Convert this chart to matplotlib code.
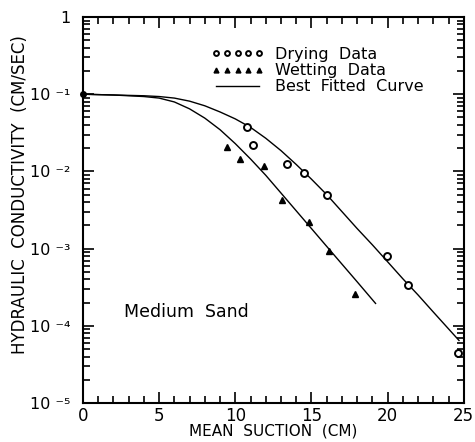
import matplotlib.pyplot as plt
from matplotlib.ticker import FixedLocator, LogLocator, NullFormatter

# data
dry_x = [10.77, 11.16, 13.4, 14.49, 16.03, 19.93, 21.34, 24.63]
dry_k = [0.038, 0.022, 0.0123, 0.0095, 0.0050, 0.00081, 0.00034, 0.000044]

wet_x = [9.45, 10.28, 11.89, 13.07, 14.85, 16.14, 17.85]
wet_k = [0.021, 0.0145, 0.0117, 0.0043, 0.0022, 0.00093, 0.00026]

# best fitted curves (traced)
fit_dry_x = [0, 2, 4, 5, 6, 7, 8, 9, 10, 11, 12, 13, 14, 15, 16, 17, 18, 19, 20, 21, 22, 23, 24.69]
fit_dry_k = [0.1, 0.0977, 0.0955, 0.0933, 0.0891, 0.0813, 0.0708, 0.0589, 0.0479, 0.0372, 0.0269, 0.0186,
             0.0123, 0.00794, 0.00501, 0.00302, 0.00182, 0.00112, 0.000676, 0.000407, 0.000251, 0.000151,
             0.0000646]
fit_wet_x = [0, 2, 4, 5, 6, 7, 8, 9, 10, 11, 12, 13, 14, 15, 16, 17, 18, 19.21]
fit_wet_k = [0.1, 0.0977, 0.0933, 0.0891, 0.0794, 0.0646, 0.0490, 0.0347, 0.0229, 0.0145, 0.00891, 0.00525,
             0.00309, 0.00182, 0.00107, 0.000631, 0.000372, 0.000195]

ytick_vals = [1e-5, 1e-4, 1e-3, 1e-2, 1e-1, 1]
ytick_labels = ['10 ⁻⁵', '10 ⁻⁴', '10 ⁻³', '10 ⁻²', '10 ⁻¹', '1']

plt.rcParams['font.family'] = 'DejaVu Sans'

fig = plt.figure(figsize=(4.75, 4.42), dpi=100)
ax = fig.add_axes([0.1747, 0.0882, 0.8016, 0.8733])

ax.plot(fit_dry_x, fit_dry_k, color='k', lw=1.0, label='Best  Fitted  Curve')
ax.plot(fit_wet_x, fit_wet_k, color='k', lw=1.0)
ax.plot(dry_x, dry_k, 'o', mfc='white', mec='k', mew=1.4, ms=5, ls='none', label='Drying  Data')
ax.plot(wet_x, wet_k, '^', color='k', ms=5, ls='none', label='Wetting  Data')
ax.plot([0], [0.1], 'o', color='k', ms=4, clip_on=False)

ax.set_yscale('log')
ax.set_xlim(0, 25)
ax.set_ylim(1e-5, 1)
ax.set_xticks([0, 5, 10, 15, 20, 25])
ax.xaxis.set_minor_locator(FixedLocator(range(26)))
ax.set_yticks(ytick_vals)
ax.set_yticklabels(ytick_labels)
ax.yaxis.set_minor_locator(LogLocator(base=10, subs=range(2, 10)))
ax.yaxis.set_minor_formatter(NullFormatter())
ax.tick_params(which='both', direction='in', top=True, right=True, width=1.2)
ax.tick_params(which='major', length=8)
ax.tick_params(which='minor', length=5)
ax.tick_params(axis='y', pad=9, labelsize=11.5)
ax.tick_params(axis='x', pad=3, labelsize=12)
for s in ax.spines.values():
    s.set_linewidth(1.5)

ax.set_xlabel('MEAN  SUCTION  (CM)', fontsize=11, labelpad=-1)
ax.set_ylabel('HYDRAULIC  CONDUCTIVITY  (CM/SEC)', fontsize=12)
ax.yaxis.set_label_coords(-0.142, 0.54)

ax.text(2.7, 1.3e-4, 'Medium  Sand', fontsize=12.5)

h, l = ax.get_legend_handles_labels()
order = [1, 2, 0]
ax.legend([h[i] for i in order], [l[i] for i in order], loc='upper left',
          bbox_to_anchor=(0.428, 0.912), bbox_transform=fig.transFigure,
          frameon=False, numpoints=5, handlelength=3.3, handletextpad=0.7,
          labelspacing=0.08, borderpad=0, fontsize=11.5, markerscale=0.7)

fig.savefig('out.png', dpi=100)
